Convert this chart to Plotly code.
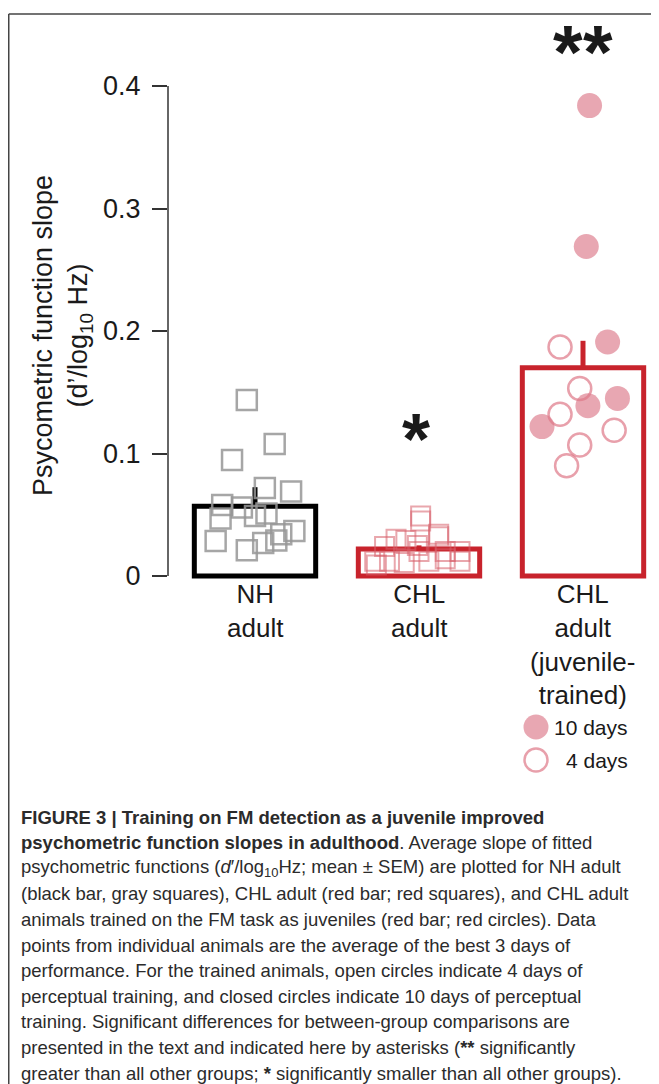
import plotly.graph_objects as go

# ---------------- data ----------------
group_labels = ["NH<br>adult", "CHL<br>adult", "CHL<br>adult<br>(juvenile-<br>trained)"]
bar_means = [0.057, 0.022, 0.170]
bar_sem = [0.0155, 0.003, 0.022]

nh_values = [0.1437, 0.1078, 0.0947, 0.0718, 0.069, 0.058, 0.056, 0.047,
             0.049, 0.051, 0.0286, 0.021, 0.027, 0.029, 0.0367, 0.034]
nh_jitter = [-0.05, 0.12, -0.14, 0.06, 0.22, -0.20, -0.08, -0.21,
             0.0, 0.07, -0.24, -0.05, 0.05, 0.13, 0.24, 0.16]

chl_values = [0.049, 0.045, 0.030, 0.029, 0.034, 0.032, 0.024, 0.020, 0.025,
              0.012, 0.012, 0.011, 0.012, 0.014, 0.012, 0.020, 0.009, 0.020]
chl_jitter = [0.01, 0.01, -0.14, -0.08, 0.12, 0.12, -0.21, 0.25, -0.01,
              -0.27, -0.18, -0.09, 0.06, 0.16, 0.25, 0.0, -0.26, 0.16]

juv10_values = [0.384, 0.269, 0.191, 0.145, 0.139, 0.122]
juv10_jitter = [0.04, 0.02, 0.15, 0.21, 0.03, -0.25]
juv4_values = [0.187, 0.153, 0.132, 0.119, 0.107, 0.090]
juv4_jitter = [-0.14, -0.02, -0.14, 0.19, -0.02, -0.10]

y_tick_vals = [0, 0.1, 0.2, 0.3, 0.4]
y_tick_text = ["0", "0.1", "0.2", "0.3", "0.4"]

legend_labels = ["10 days", "4 days"]

caption_lines = [
    "<b>FIGURE 3 | Training on FM detection as a juvenile improved</b>",
    "<b>psychometric function slopes in adulthood</b>. Average slope of fitted",
    "psychometric functions (<i>d</i>′/log<sub>10</sub>Hz; mean ± SEM) are plotted for NH adult",
    "(black bar, gray squares), CHL adult (red bar; red squares), and CHL adult",
    "animals trained on the FM task as juveniles (red bar; red circles). Data",
    "points from individual animals are the average of the best 3 days of",
    "performance. For the trained animals, open circles indicate 4 days of",
    "perceptual training, and closed circles indicate 10 days of perceptual",
    "training. Significant differences for between-group comparisons are",
    "presented in the text and indicated here by asterisks (<b>**</b> significantly",
    "greater than all other groups; <b>*</b> significantly smaller than all other groups).",
]

# ---------------- layout geometry ----------------
# The page body has an 8px margin, so figure pixel = target pixel - OFF.
OFF = 8
W, H = 651, 1076
L, R, T, B = 160, 10, 17, 484          # plot area: ref x 168..649, ref y 25..600
PX_PER_UNIT_Y = 1225.0
ZERO_REF = 576
y_hi = (ZERO_REF - (T + OFF)) / PX_PER_UNIT_Y
y_lo = -((H - B + OFF) - ZERO_REF) / PX_PER_UNIT_Y
PX_PER_CAT = 164.0
x_lo = -(255 - (L + OFF)) / PX_PER_CAT
x_hi = x_lo + (W - L - R) / PX_PER_CAT


def px_x(px):
    return (px - OFF - L) / (W - L - R)


def px_y(py):
    return ((H - B) - (py - OFF)) / (H - T - B)


def ref_to_y(py):
    return (ZERO_REF - py) / PX_PER_UNIT_Y


RED = "#c8232c"
FONT = "Liberation Sans, Arial, Helvetica, sans-serif"
TXT = "#1a1a1a"

fig = go.Figure()

bar_colors = ["#000000", RED, RED]
for i in range(3):
    fig.add_trace(go.Bar(
        x=[i], y=[bar_means[i]], width=0.74,
        marker=dict(color="rgba(255,255,255,0)", line=dict(color=bar_colors[i], width=5)),
        error_y=dict(type="data", symmetric=False, array=[bar_sem[i]], arrayminus=[0],
                     thickness=5, width=0, color=bar_colors[i]),
        showlegend=False, hoverinfo="skip",
    ))

fig.add_trace(go.Scatter(
    x=[0 + j for j in nh_jitter], y=nh_values, mode="markers",
    marker=dict(symbol="square-open", size=20, color="rgba(150,150,150,0.85)", line=dict(width=2.5)),
    showlegend=False, cliponaxis=False,
))
fig.add_trace(go.Scatter(
    x=[1 + j for j in chl_jitter], y=chl_values, mode="markers",
    marker=dict(symbol="square-open", size=19, color="rgba(215,95,105,0.55)", line=dict(width=2)),
    showlegend=False, cliponaxis=False,
))
fig.add_trace(go.Scatter(
    x=[2 + j for j in juv10_jitter], y=juv10_values, mode="markers",
    marker=dict(symbol="circle", size=25, color="rgba(222,130,145,0.7)", line=dict(width=0)),
    showlegend=False, cliponaxis=False,
))
fig.add_trace(go.Scatter(
    x=[2 + j for j in juv4_jitter], y=juv4_values, mode="markers",
    marker=dict(symbol="circle-open", size=23, color="rgba(222,120,135,0.7)", line=dict(width=2.5)),
    showlegend=False, cliponaxis=False,
))

annotations = []
# x category labels
for i, lab in enumerate(group_labels):
    annotations.append(dict(x=i, y=0, xref="x", yref="y", text=lab, showarrow=False,
                            xanchor="center", yanchor="top", yshift=-1,
                            font=dict(family=FONT, size=26, color=TXT)))
# y title
annotations.append(dict(x=px_x(62), y=px_y(336), xref="paper", yref="paper",
                        text="Psycometric function slope<br>(d’/log<sub>10</sub> Hz)",
                        textangle=-90, showarrow=False, xanchor="center", yanchor="middle",
                        font=dict(family=FONT, size=27, color=TXT)))
# significance
annotations.append(dict(x=1, y=ref_to_y(430), xref="x", yref="y", text="<b>*</b>",
                        showarrow=False, xanchor="center", yanchor="middle", yshift=-9,
                        xshift=-3, font=dict(family=FONT, size=72, color=TXT)))
annotations.append(dict(x=2, y=ref_to_y(42), xref="x", yref="y", text="<b>*</b>",
                        showarrow=False, xanchor="center", yanchor="middle", yshift=-9,
                        xshift=-15, font=dict(family=FONT, size=76, color=TXT)))
annotations.append(dict(x=2, y=ref_to_y(42), xref="x", yref="y", text="<b>*</b>",
                        showarrow=False, xanchor="center", yanchor="middle", yshift=-9,
                        xshift=15, font=dict(family=FONT, size=76, color=TXT)))
# legend text
for lab, py in zip(legend_labels, [727, 760]):
    annotations.append(dict(x=px_x(630), y=px_y(py), xref="paper", yref="paper", text=lab,
                            showarrow=False, xanchor="right", yanchor="middle",
                            font=dict(family=FONT, size=21, color=TXT)))
# caption
for i, line in enumerate(caption_lines):
    annotations.append(dict(x=px_x(19), y=px_y(817 + 25.6 * i), xref="paper", yref="paper",
                            text=line, showarrow=False, xanchor="left", yanchor="middle",
                            font=dict(family=FONT, size=18.5, color="#2b2b2b")))

shapes = [
    # y axis line from 0 to 0.4
    dict(type="line", xref="paper", yref="y", x0=0, x1=0, y0=0, y1=0.4,
         line=dict(color="#333333", width=1.5)),
    # frame
    dict(type="line", xref="paper", yref="paper", x0=px_x(8.75), x1=px_x(670),
         y0=px_y(14), y1=px_y(14), line=dict(color="#444444", width=1.5)),
    dict(type="line", xref="paper", yref="paper", x0=px_x(8.75), x1=px_x(8.75),
         y0=px_y(14), y1=px_y(1095), line=dict(color="#444444", width=1.5)),
    # legend glyphs
    dict(type="circle", xref="paper", yref="paper", x0=px_x(523.5), x1=px_x(548.5),
         y0=px_y(739.5), y1=px_y(714.5), fillcolor="rgba(222,130,145,0.7)", line=dict(width=0)),
    dict(type="circle", xref="paper", yref="paper", x0=px_x(524.5), x1=px_x(547.5),
         y0=px_y(771.5), y1=px_y(748.5), fillcolor="rgba(0,0,0,0)",
         line=dict(color="rgba(222,120,135,0.7)", width=2.5)),
]

fig.update_layout(
    width=W, height=H, margin=dict(l=L, r=R, t=T, b=B, autoexpand=False),
    paper_bgcolor="white", plot_bgcolor="white", barmode="overlay",
    showlegend=False, annotations=annotations, shapes=shapes,
    xaxis=dict(range=[x_lo, x_hi], visible=False, fixedrange=True),
    yaxis=dict(range=[y_lo, y_hi], tickvals=y_tick_vals, ticktext=y_tick_text,
               showgrid=False, zeroline=False, showline=False, ticks="outside",
               ticklen=15, tickwidth=1.5, tickcolor="#333333", ticklabelstandoff=6,
               tickfont=dict(family=FONT, size=27, color=TXT), automargin=False,
               fixedrange=True),
    font=dict(family=FONT),
)

fig.write_html("out.html")
